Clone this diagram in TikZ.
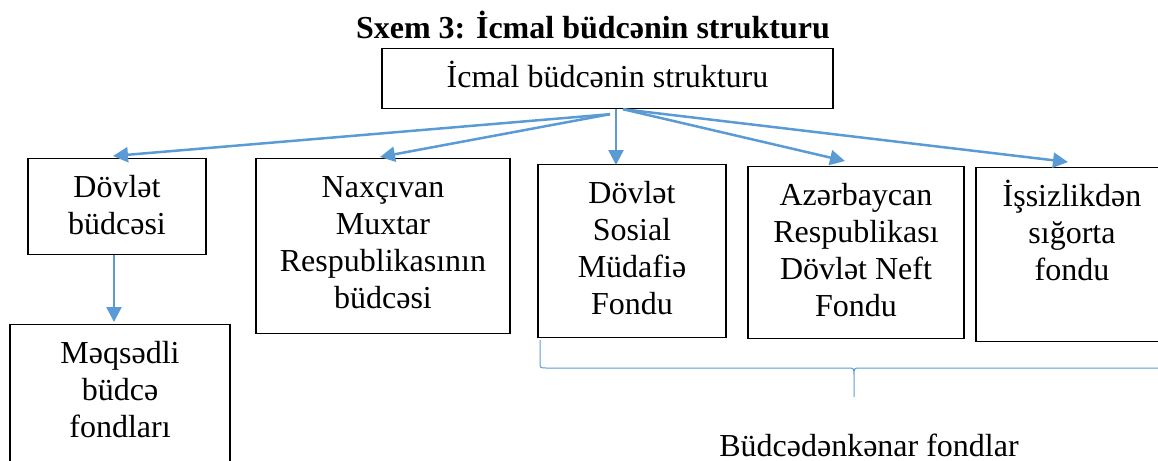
\documentclass[tikz,border=0pt]{standalone}
\usepackage{fontspec}
\setmainfont{Liberation Serif}
\usepackage{tikz}
\usetikzlibrary{arrows.meta}
\definecolor{ofblue}{RGB}{91,155,213}

\begin{document}
\begin{tikzpicture}[x=0.5pt, y=-0.5pt,
  kutu/.style={draw, line width=0.6pt, align=center, anchor=north,
    font=\fontsize{16}{18.5}\selectfont, inner xsep=0pt, inner ysep=0pt},
  ox/.style={ofblue, line width=1.25pt, -{Triangle[length=7.5pt, width=7.5pt]}}]
  \useasboundingbox (0,0) rectangle (1158,461);
  \clip (0,0) rectangle (1158,461);
  \node[font=\fontsize{16}{19}\selectfont\bfseries, anchor=base] (title) at (593,38) {Sxem 3: İcmal büdcənin strukturu};
  \node[kutu, minimum width=225.5pt, text height=19.5pt, text depth=10.5pt] (icmal) at (607.5,48) {İcmal büdcənin strukturu};
  \node[kutu, minimum width=89pt, text height=38pt, text depth=10pt] (dov) at (117,158) {Dövlət\\büdcəsi};
  \node[kutu, minimum width=127pt, text height=75pt, text depth=12.5pt] (nax) at (383,158) {Naxçıvan\\Muxtar\\Respublikasının\\büdcəsi};
  \node[kutu, minimum width=94pt, text height=75pt, text depth=11.5pt] (sos) at (632,164) {Dövlət\\Sosial\\Müdafiə\\Fondu};
  \node[kutu, minimum width=108pt, text height=75pt, text depth=11pt] (neft) at (856,166) {Azərbaycan\\Respublikası\\Dövlət Neft\\Fondu};
  \node[kutu, minimum width=96pt, text height=56.5pt, text depth=30.5pt] (iss) at (1072,167) {İşsizlikdən\\sığorta\\fondu};
  \node[kutu, minimum width=110pt, text height=56.5pt, text depth=30pt] (mq) at (120,324) {Məqsədli\\büdcə\\fondları};
  % oxlar
  \draw[ox] ([shift={(2.5,5)}]icmal.south) -- ([shift={(-4,-2)}]dov.north);
  \draw[ox] ([shift={(2.5,5)}]icmal.south) -- ([shift={(-3,-1)}]nax.north);
  \draw[ox] ([shift={(8.5,0)}]icmal.south) -- ([shift={(-16,1)}]sos.north);
  \draw[ox] ([shift={(15.5,0)}]icmal.south) -- ([shift={(-11,-5)}]neft.north);
  \draw[ox] ([shift={(15.5,0)}]icmal.south) -- ([shift={(-4,-5)}]iss.north);
  \draw[ox] ([shift={(-3,0)}]dov.south) -- ([shift={(-6,-2)}]mq.north);
  % fiqurlu mötərizə
  \draw[ofblue, line width=0.5pt] (540,340) -- (540,362) .. controls (540,368) .. (546,368) -- (848,368)
    .. controls (854,368) .. (854,376) -- (854,397) -- (854,376) .. controls (854,368) .. (860,368)
    -- (1162,368) .. controls (1168,368) .. (1168,362) -- (1168,340);
  \node[font=\fontsize{16}{18.5}\selectfont, anchor=base] (disi) at (869,456) {Büdcədənkənar fondlar};
\end{tikzpicture}
\end{document}
